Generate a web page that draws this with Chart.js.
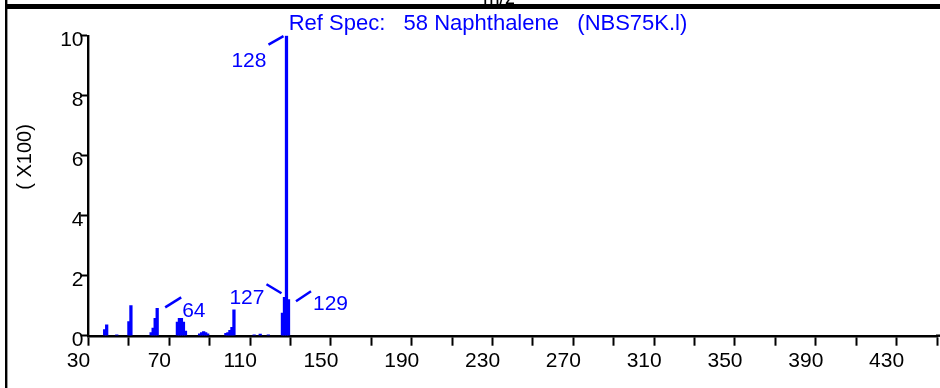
<!DOCTYPE html>
<html>
<head>
<meta charset="utf-8">
<script src="https://cdn.jsdelivr.net/npm/chart.js@4.4.1/dist/chart.umd.min.js"></script>
<style>
  html, body { margin: 0; padding: 0; background: #ffffff; }
  #wrap { width: 940px; height: 388px; position: relative; }
</style>
</head>
<body>
<div id="wrap"><canvas id="spec"></canvas></div>
<script>
// Reference spectrum: Naphthalene, library entry 58 (NBS75K.l)
const titleText = 'Ref Spec:   58 Naphthalene   (NBS75K.l)';
const xAxisTitle = 'm/z';
const yAxisTitle = '( X100)';

// m/z values and relative abundances (base peak = 1000)
const masses      = [38, 39, 44, 50, 51, 61, 62, 63, 64, 74, 75, 76, 77, 78, 85, 86, 87, 88, 89, 98, 99, 100, 101, 102, 112, 115, 119, 126, 127, 128, 129];
const intensities = [20, 36,  3, 47, 100, 10, 25, 58, 91, 45, 58, 58, 45, 15, 6, 10, 14, 10,  6,  8, 10,  18,  28,  86,   3,   5,   3,  75, 128, 1000, 120];

// Peaks carrying an m/z annotation
const labeledPeaks = [64, 127, 128, 129];

// Axis ranges and tick labels
const xMin = 30, xMax = 450, xStep = 20;
const xTickLabels = [30, 70, 110, 150, 190, 230, 270, 310, 350, 390, 430];
const yMax = 1000, yStep = 200;

const BLUE = '#0000ff';
const FONT = '"Liberation Sans", Arial, sans-serif';

// Leader-line and text placement for each annotated peak, relative to the peak top
const labelLayout = {
  64:  { line: [8, -1, 24, -11],      text: [25, 9],    align: 'left'  },
  127: { line: [-18, -13, -3, -4],    text: [-20, 7],   align: 'right' },
  128: { line: [-18, 9, -3, 0.5],     text: [-20, 31],  align: 'right' },
  129: { line: [7.5, 1.5, 22.5, -8.5], text: [24.5, 10], align: 'left' }
};

const decorations = {
  id: 'decorations',
  afterDraw(chart) {
    const ctx = chart.ctx;
    const xs = chart.scales.x, ys = chart.scales.y;
    ctx.save();

    // axis title of the panel above, mostly hidden behind the frame
    ctx.fillStyle = '#000';
    ctx.font = '20px ' + FONT;
    ctx.textAlign = 'center';
    ctx.textBaseline = 'alphabetic';
    ctx.fillText(xAxisTitle, 499, 4);

    // frame
    ctx.fillStyle = '#000';
    ctx.fillRect(5, 4, 935, 5);
    ctx.fillRect(5, 0, 2.4, 388);
    // carry the x axis line to the right edge
    ctx.fillRect(xs.right - 1, ys.bottom - 1.2, 940 - xs.right + 1, 2.4);

    // title
    ctx.fillStyle = BLUE;
    ctx.font = '22px ' + FONT;
    ctx.textAlign = 'center';
    ctx.fillText(titleText, 488, 30);

    // y axis title
    ctx.save();
    ctx.translate(31, 157);
    ctx.rotate(-Math.PI / 2);
    ctx.fillStyle = '#000';
    ctx.font = '20px ' + FONT;
    ctx.textAlign = 'center';
    ctx.fillText(yAxisTitle, 0, 0);
    ctx.restore();

    // peak annotations
    ctx.strokeStyle = BLUE;
    ctx.fillStyle = BLUE;
    ctx.lineWidth = 2.5;
    ctx.font = '21px ' + FONT;
    labeledPeaks.forEach(m => {
      const i = masses.indexOf(m);
      if (i < 0) return;
      const px = xs.getPixelForValue(m);
      const py = ys.getPixelForValue(intensities[i]);
      const L = labelLayout[m];
      ctx.beginPath();
      ctx.moveTo(px + L.line[0], py + L.line[1]);
      ctx.lineTo(px + L.line[2], py + L.line[3]);
      ctx.stroke();
      ctx.textAlign = L.align;
      ctx.fillText(String(m), px + L.text[0], py + L.text[1]);
    });
    ctx.restore();
  }
};

new Chart(document.getElementById('spec'), {
  type: 'bar',
  data: {
    datasets: [{
      data: masses.map((m, i) => ({ x: m, y: intensities[i] })),
      backgroundColor: BLUE,
      borderWidth: 0,
      barThickness: 2.6,
      grouped: false
    }]
  },
  options: {
    responsive: true,
    maintainAspectRatio: false,
    animation: false,
    events: [],
    layout: { padding: { left: 0, right: 1.5, top: 35.7, bottom: 0 } },
    plugins: { legend: { display: false }, tooltip: { enabled: false }, title: { display: false } },
    scales: {
      x: {
        type: 'linear',
        offset: false,
        min: xMin, max: xMax,
        afterFit(s) { s.height = 52.3; },
        afterBuildTicks(s) {
          const t = [];
          for (let v = xMin; v <= xMax; v += xStep) t.push({ value: v });
          s.ticks = t;
        },
        ticks: {
          autoSkip: false,
          maxRotation: 0,
          color: '#000',
          font: { family: FONT, size: 21 },
          padding: 3,
          labelOffset: -10,
          callback: v => xTickLabels.includes(v) ? String(v) : ''
        },
        grid: { offset: false, drawOnChartArea: false, drawTicks: true, tickLength: 10, tickWidth: 2, tickColor: '#000' },
        border: { display: true, color: '#000', width: 2.4 }
      },
      y: {
        min: 0, max: yMax,
        afterFit(s) { s.width = 88.5; },
        ticks: {
          stepSize: yStep,
          color: '#000',
          font: { family: FONT, size: 21 },
          padding: -3,
          labelOffset: 5,
          callback: v => String(v / 100)
        },
        grid: { drawOnChartArea: false, drawTicks: true, tickLength: 8, tickWidth: 2, tickColor: '#000' },
        border: { display: true, color: '#000', width: 2.4 }
      }
    }
  },
  plugins: [decorations]
});
</script>
</body>
</html>
